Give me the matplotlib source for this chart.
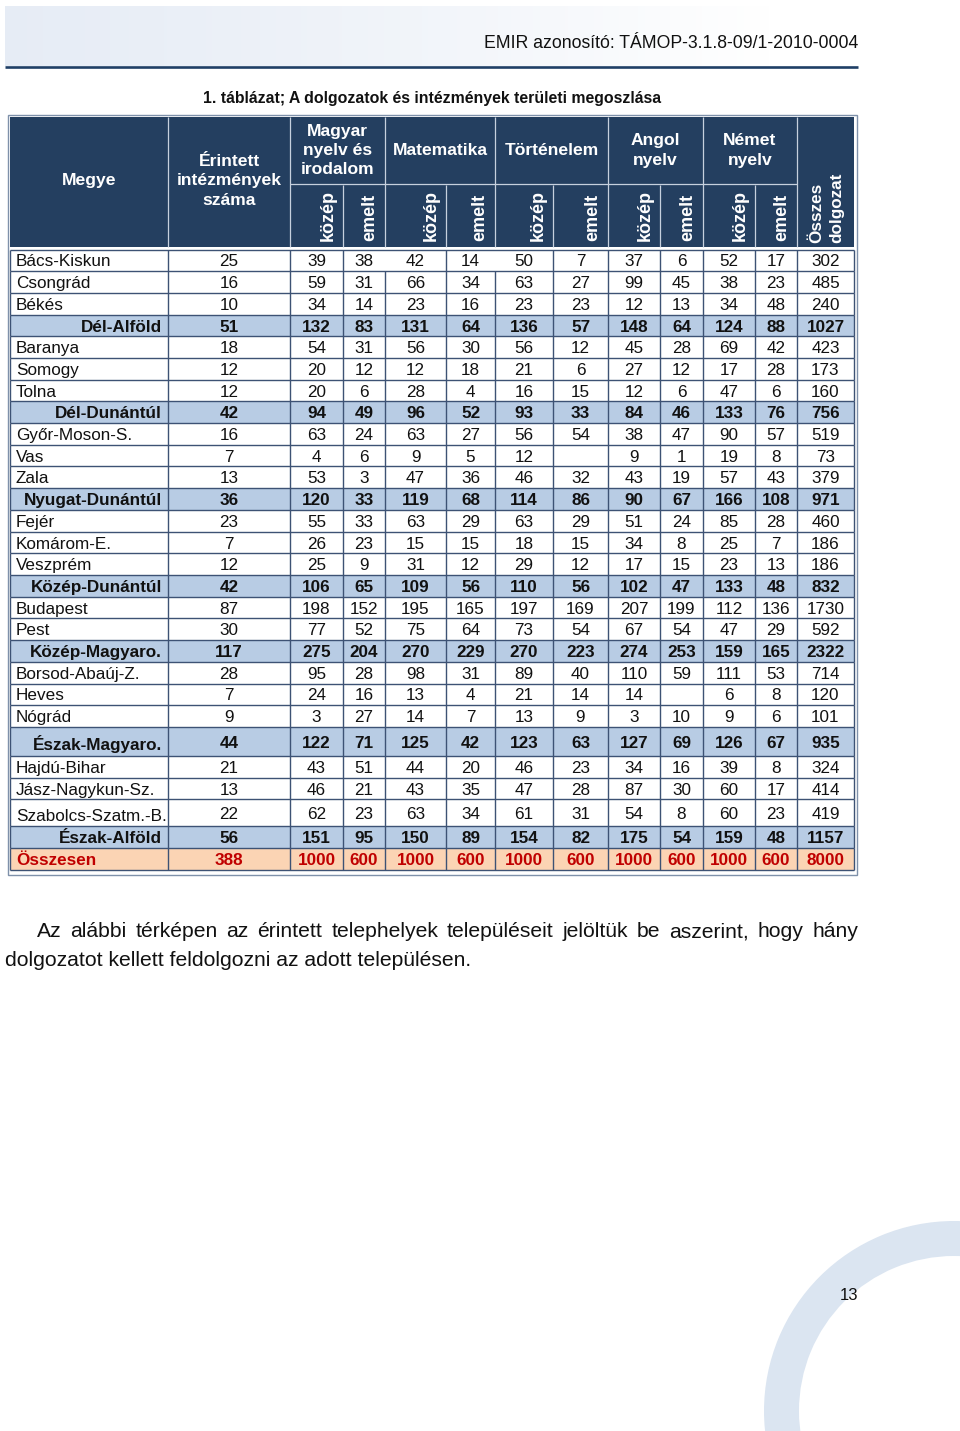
import numpy as np
import matplotlib
matplotlib.use('Agg')
import matplotlib.pyplot as plt
from matplotlib.patches import Rectangle, Wedge
from matplotlib.collections import LineCollection

plt.rcParams['font.family'] = ['Liberation Sans', 'DejaVu Sans']

# ─── Table data ──────────────────────────────────────────────────────────────
MEGYE = ['Bács-Kiskun', 'Csongrád', 'Békés', 'Dél-Alföld',
         'Baranya', 'Somogy', 'Tolna', 'Dél-Dunántúl',
         'Győr-Moson-S.', 'Vas', 'Zala', 'Nyugat-Dunántúl',
         'Fejér', 'Komárom-E.', 'Veszprém', 'Közép-Dunántúl',
         'Budapest', 'Pest', 'Közép-Magyaro.',
         'Borsod-Abaúj-Z.', 'Heves', 'Nógrád', 'Észak-Magyaro.',
         'Hajdú-Bihar', 'Jász-Nagykun-Sz.', 'Szabolcs-Szatm.-B.', 'Észak-Alföld',
         'Összesen']
# m = megye, r = régió összesen, o = országos összesen
SOR_TIPUS = ['m', 'm', 'm', 'r', 'm', 'm', 'm', 'r', 'm', 'm', 'm', 'r', 'm', 'm',
             'm', 'r', 'm', 'm', 'r', 'm', 'm', 'm', 'r', 'm', 'm', 'm', 'r', 'o']

INTEZMENY    = [25, 16, 10, 51, 18, 12, 12, 42, 16, 7, 13, 36, 23, 7, 12, 42,
                87, 30, 117, 28, 7, 9, 44, 21, 13, 22, 56, 388]
MAGYAR_KOZEP = [39, 59, 34, 132, 54, 20, 20, 94, 63, 4, 53, 120, 55, 26, 25, 106,
                198, 77, 275, 95, 24, 3, 122, 43, 46, 62, 151, 1000]
MAGYAR_EMELT = [38, 31, 14, 83, 31, 12, 6, 49, 24, 6, 3, 33, 33, 23, 9, 65,
                152, 52, 204, 28, 16, 27, 71, 51, 21, 23, 95, 600]
MATEK_KOZEP  = [42, 66, 23, 131, 56, 12, 28, 96, 63, 9, 47, 119, 63, 15, 31, 109,
                195, 75, 270, 98, 13, 14, 125, 44, 43, 63, 150, 1000]
MATEK_EMELT  = [14, 34, 16, 64, 30, 18, 4, 52, 27, 5, 36, 68, 29, 15, 12, 56,
                165, 64, 229, 31, 4, 7, 42, 20, 35, 34, 89, 600]
TORI_KOZEP   = [50, 63, 23, 136, 56, 21, 16, 93, 56, 12, 46, 114, 63, 18, 29, 110,
                197, 73, 270, 89, 21, 13, 123, 46, 47, 61, 154, 1000]
TORI_EMELT   = [7, 27, 23, 57, 12, 6, 15, 33, 54, None, 32, 86, 29, 15, 12, 56,
                169, 54, 223, 40, 14, 9, 63, 23, 28, 31, 82, 600]
ANGOL_KOZEP  = [37, 99, 12, 148, 45, 27, 12, 84, 38, 9, 43, 90, 51, 34, 17, 102,
                207, 67, 274, 110, 14, 3, 127, 34, 87, 54, 175, 1000]
ANGOL_EMELT  = [6, 45, 13, 64, 28, 12, 6, 46, 47, 1, 19, 67, 24, 8, 15, 47,
                199, 54, 253, 59, None, 10, 69, 16, 30, 8, 54, 600]
NEMET_KOZEP  = [52, 38, 34, 124, 69, 17, 47, 133, 90, 19, 57, 166, 85, 25, 23, 133,
                112, 47, 159, 111, 6, 9, 126, 39, 60, 60, 159, 1000]
NEMET_EMELT  = [17, 23, 48, 88, 42, 28, 6, 76, 57, 8, 43, 108, 28, 7, 13, 48,
                136, 29, 165, 53, 8, 6, 67, 8, 17, 23, 48, 600]
OSSZES       = [302, 485, 240, 1027, 423, 173, 160, 756, 519, 73, 379, 971, 460, 186,
                186, 832, 1730, 592, 2322, 714, 120, 101, 935, 324, 414, 419, 1157, 8000]

TANTARGY = ['Magyar\nnyelv és\nirodalom', 'Matematika', 'Történelem',
            'Angol\nnyelv', 'Német\nnyelv']
SZINT = ['közép', 'emelt']

FEJLEC = 'EMIR azonosító: TÁMOP-3.1.8-09/1-2010-0004'
CIM = '1. táblázat; A dolgozatok és intézmények területi megoszlása'
BEKEZDES_1 = ('Az alábbi térképen az érintett telephelyek településeit jelöltük '
              'be aszerint, hogy hány')
BEKEZDES_2 = 'dolgozatot kellett feldolgozni az adott településen.'
OLDALSZAM = '13'

# ─── Layout (pixel coordinates on a 960x1431 page) ──────────────────────────
COL_X = [10, 168, 290, 343, 385, 446, 495, 553, 608, 660, 703, 755, 797, 854]
HEAD_TOP, HEAD_MID, HEAD_BOT = 117, 183.5, 247
BODY_TOP = 249.5
ROW_H = [21.7] * 28
ROW_H[22] = 29.0   # Észak-Magyaro.
ROW_H[25] = 27.0   # Szabolcs-Szatm.-B.

NAVY = '#243f60'
HEAD_LINE = '#c6d0de'
GRID = '#3d5274'
REGIO_BG = '#b8cce4'
TOTAL_BG = '#fbd4b4'
RED = '#c00000'
FS = 12.3

fig = plt.figure(figsize=(9.6, 14.31), dpi=100)
ax = fig.add_axes([0, 0, 1, 1])

# page header band
t = np.linspace(0, 1, 300)
g = np.clip(t * 1.25, 0, 1) ** 1.3
c0 = np.array([0.905, 0.928, 0.964])
band = c0[None, :] + (1 - c0)[None, :] * g[:, None]
ax.imshow(band[None, :, :], extent=[5, 960, 66, 6], aspect='auto', zorder=0)
ax.plot([5, 858], [67, 67], color='#1f3f66', lw=1.9, solid_capstyle='butt')
ax.text(858, 44, FEJLEC, ha='right', va='center', fontsize=12.7, color='#111111')

ax.text(432, 99, CIM, ha='center', va='center', fontsize=11.4,
        fontweight='bold', color='#111111')

# ─── Header ─────────────────────────────────────────────────────────────────
ax.add_patch(Rectangle((COL_X[0], HEAD_TOP), COL_X[-1] - COL_X[0],
                       HEAD_BOT - HEAD_TOP, fc=NAVY, ec='none', zorder=1))
hl = []
for i, x in enumerate(COL_X[1:-1], start=1):
    if i in (1, 2, 4, 6, 8, 10, 12):
        hl.append([(x, HEAD_TOP), (x, HEAD_BOT)])
    else:
        hl.append([(x, HEAD_MID + 1), (x, HEAD_BOT)])
hl.append([(COL_X[2], HEAD_MID), (COL_X[12], HEAD_MID)])
ax.add_collection(LineCollection(hl, colors=HEAD_LINE, linewidths=0.9, zorder=2))

hkw = dict(color='white', fontweight='bold', zorder=3)
ax.text((COL_X[0] + COL_X[1]) / 2, 181, 'Megye', ha='center', va='center',
        fontsize=12.6, **hkw)
ax.text((COL_X[1] + COL_X[2]) / 2, 181, 'Érintett\nintézmények\nszáma',
        ha='center', va='center', linespacing=1.36, fontsize=12.6, **hkw)
for k, name in enumerate(TANTARGY):
    x0, x1 = COL_X[2 + 2 * k], COL_X[4 + 2 * k]
    ax.text((x0 + x1) / 2, 150.5, name, ha='center', va='center',
            linespacing=1.36, fontsize=12.6, **hkw)
    for j, lvl in enumerate(SZINT):
        c = COL_X[3 + 2 * k + j] - 15
        ax.text(c, 241, lvl, rotation=90, ha='center', va='bottom',
                fontsize=13, **hkw)
ax.text((COL_X[12] + COL_X[13]) / 2 + 1, 243, 'Összes\ndolgozat', rotation=90,
        ha='center', va='bottom', multialignment='left', linespacing=1.4,
        fontsize=FS, **hkw)

# ─── Body ───────────────────────────────────────────────────────────────────
ertekek = [INTEZMENY, MAGYAR_KOZEP, MAGYAR_EMELT, MATEK_KOZEP, MATEK_EMELT,
           TORI_KOZEP, TORI_EMELT, ANGOL_KOZEP, ANGOL_EMELT, NEMET_KOZEP,
           NEMET_EMELT, OSSZES]
row_y = [BODY_TOP]
for h in ROW_H:
    row_y.append(row_y[-1] + h)

segs = []
for r, nev in enumerate(MEGYE):
    y0, y1 = row_y[r], row_y[r + 1]
    tipus = SOR_TIPUS[r]
    bg = {'m': 'white', 'r': REGIO_BG, 'o': TOTAL_BG}[tipus]
    ax.add_patch(Rectangle((COL_X[0], y0), COL_X[-1] - COL_X[0], y1 - y0,
                           fc=bg, ec='none', zorder=1))
    for i, x in enumerate(COL_X):
        # the first data row has two missing cell borders in the source
        if r == 0 and i in (4, 6):
            continue
        segs.append([(x, y0), (x, y1)])

    yb = (y0 + y1) / 2 + 6.1
    bold = 'bold' if tipus != 'm' else 'normal'
    col = RED if tipus == 'o' else '#111111'
    lab_dy = 2 if ROW_H[r] > 24 else 0
    if tipus == 'r':
        ax.text(COL_X[1] - 6, yb + lab_dy, nev, ha='right', va='baseline',
                fontsize=FS, fontweight='bold', color=col, zorder=3)
    else:
        ax.text(COL_X[0] + 6, yb + lab_dy, nev, ha='left', va='baseline',
                fontsize=FS, fontweight=bold, color=col, zorder=3)
    for ci, vals in enumerate(ertekek):
        v = vals[r]
        if v is None:
            continue
        cx = (COL_X[ci + 1] + COL_X[ci + 2]) / 2
        ax.text(cx, yb, str(v), ha='center', va='baseline', fontsize=FS,
                fontweight=bold, color=col, zorder=3)

for y in row_y:
    segs.append([(COL_X[0], y), (COL_X[-1], y)])
ax.add_collection(LineCollection(segs, colors=GRID, linewidths=1.0, zorder=2))

# outer double frame
ax.add_patch(Rectangle((7.5, 114.5), 849.5, 760, fill=False, ec='#7f91aa',
                       lw=1.0, zorder=2))

# ─── Paragraph (justified first line) ───────────────────────────────────────
PFS = 15.2
ax.text(5, 966, BEKEZDES_2, ha='left', va='baseline', fontsize=PFS, color='#111111')
szavak = BEKEZDES_1.split(' ')
txts = [ax.text(0, 937, w, ha='left', va='baseline', fontsize=PFS,
                color='#111111') for w in szavak]

# ─── Decorative arc & page number ───────────────────────────────────────────
ax.add_patch(Wedge((954, 1411), 190, 0, 360, width=35, fc='#dbe5f1',
                   ec='none', zorder=0))
ax.text(849, 1295, OLDALSZAM, ha='center', va='center', fontsize=12,
        color='#111111')

ax.set_xlim(0, 960)
ax.set_ylim(1431, 0)
ax.axis('off')

fig.canvas.draw()
ren = fig.canvas.get_renderer()
widths = [tx.get_window_extent(ren).width for tx in txts]
x_left, x_right = 37, 858
gap = (x_right - x_left - sum(widths)) / (len(widths) - 1)
x = x_left
for tx, w in zip(txts, widths):
    tx.set_x(x)
    x += w + gap

fig.savefig('out.png', dpi=100)
plt.close(fig)
